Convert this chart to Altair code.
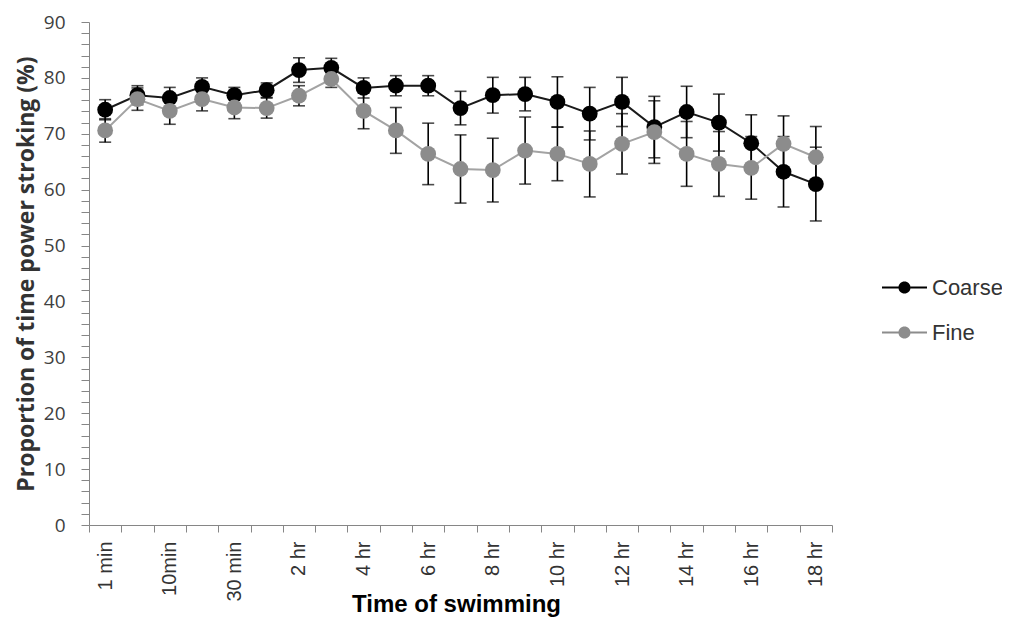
import altair as alt
import pandas as pd

times = ["1 min", "5 min", "10min", "20 min", "30 min", "1 hr", "2 hr", "3 hr",
         "4 hr", "5 hr", "6 hr", "7 hr", "8 hr", "9 hr", "10 hr", "11 hr",
         "12 hr", "13 hr", "14 hr", "15 hr", "16 hr", "17 hr", "18 hr"]
shown = times[::2]

coarse = [74.3, 76.9, 76.4, 78.4, 76.9, 77.8, 81.4, 81.8, 78.2, 78.6, 78.6, 74.6,
          76.9, 77.1, 75.7, 73.6, 75.7, 71.2, 73.9, 72.0, 68.3, 63.2, 61.0]
coarse_err = [1.8, 1.7, 1.9, 1.6, 1.4, 1.3, 2.2, 1.7, 1.8, 1.8, 1.8, 3.0,
              3.2, 3.0, 4.5, 4.7, 4.4, 5.5, 4.6, 5.1, 5.1, 6.3, 6.6]
fine = [70.6, 76.2, 74.1, 76.2, 74.7, 74.6, 76.8, 79.8, 74.1, 70.6, 66.4, 63.7,
        63.5, 67.0, 66.4, 64.6, 68.2, 70.3, 66.4, 64.6, 63.9, 68.2, 65.8]
fine_err = [2.1, 2.0, 2.4, 2.1, 2.0, 1.8, 1.8, 1.5, 3.2, 4.1, 5.5, 6.1,
            5.7, 6.0, 4.8, 5.9, 5.4, 5.6, 5.8, 5.8, 5.6, 5.0, 5.5]

series = ["Coarse", "Fine"]
marker_colors = ["#000000", "#8c8c8c"]
line_colors = ["#1a1a1a", "#a3a3a3"]

rows = []
for s, vals, errs in [("Coarse", coarse, coarse_err), ("Fine", fine, fine_err)]:
    for t, v, e in zip(times, vals, errs):
        rows.append({"time": t, "series": s, "value": v, "lo": v - e, "hi": v + e})
df = pd.DataFrame(rows)

shown_js = "[" + ",".join("'" + s + "'" for s in shown) + "]"

x_axis = alt.Axis(
    title="Time of swimming", tickBand="extent", labelAngle=-90,
    labelExpr="indexof(" + shown_js + ", datum.value) >= 0 ? datum.label : ''",
    labelFont="Liberation Sans", labelFontSize=20, labelColor="#333333",
    labelPadding=9, tickSize=7, domainColor="#868686", tickColor="#868686",
    titleFont="Liberation Sans", titleFontSize=24, titleFontWeight="bold",
    titleColor="#000000", titleX=367, titleY=67, titleBaseline="top", grid=False,
)
y_axis = alt.Axis(
    title="Proportion of time power stroking (%)",
    values=list(range(0, 91, 2)),
    labelExpr="datum.value % 10 == 0 ? datum.label : ''",
    tickSize=8, domainColor="#868686", tickColor="#868686",
    labelFont="Open Sans", labelFontSize=19, labelColor="#404040", labelPadding=16,
    titleFont="Open Sans", titleFontSize=23, titleFontWeight="bold",
    titleColor="#333333", titlePadding=5, grid=False,
)

X = alt.X("time:N", scale=alt.Scale(type="band", domain=times, paddingInner=0, paddingOuter=0),
          bandPosition=0.5, axis=x_axis)
Y = alt.Y("value:Q", scale=alt.Scale(domain=[0, 90], nice=False), axis=y_axis)
Ylo = alt.Y("lo:Q", scale=alt.Scale(domain=[0, 90], nice=False), axis=y_axis)
Yhi = alt.Y("hi:Q", scale=alt.Scale(domain=[0, 90], nice=False), axis=y_axis)

base = alt.Chart(df)

layers = []
for s, lc in zip(series, line_colors):
    sub = base.transform_filter(alt.datum.series == s)
    layers.append(sub.mark_line(color=lc, strokeWidth=2).encode(x=X, y=Y))
    layers.append(sub.mark_rule(color="#000000", strokeWidth=1.6).encode(x=X, y=Ylo, y2="hi:Q"))
    layers.append(sub.mark_tick(color="#000000", thickness=1.6, size=12, orient="horizontal").encode(x=X, y=Ylo))
    layers.append(sub.mark_tick(color="#000000", thickness=1.6, size=12, orient="horizontal").encode(x=X, y=Yhi))

sym = ("M-1,-0.045L-0.27,-0.045L-0.27,0.045L-1,0.045Z"
       "M0.27,-0.045L1,-0.045L1,0.045L0.27,0.045Z"
       "M-0.27,0A0.27,0.27,0,1,1,0.27,0A0.27,0.27,0,1,1,-0.27,0Z")

points = base.mark_circle(size=250, opacity=1).encode(
    x=X, y=Y,
    color=alt.Color("series:N", scale=alt.Scale(domain=series, range=marker_colors),
                    legend=alt.Legend(title=None, orient="none", legendX=792, legendY=242,
                                      symbolType=sym, symbolSize=2025, symbolOpacity=1,
                                      labelFont="Liberation Sans", labelFontSize=22,
                                      labelColor="#333333", labelOffset=4, padding=0,
                                      rowPadding=10)),
)
layers.append(points)

chart = alt.layer(*layers).properties(
    width=743, height=503, autosize="none",
    padding={"left": 81, "top": 14, "right": 170, "bottom": 95},
).configure_view(stroke=None)

chart.save("out.html", embed_options={"renderer": "svg", "actions": False})
